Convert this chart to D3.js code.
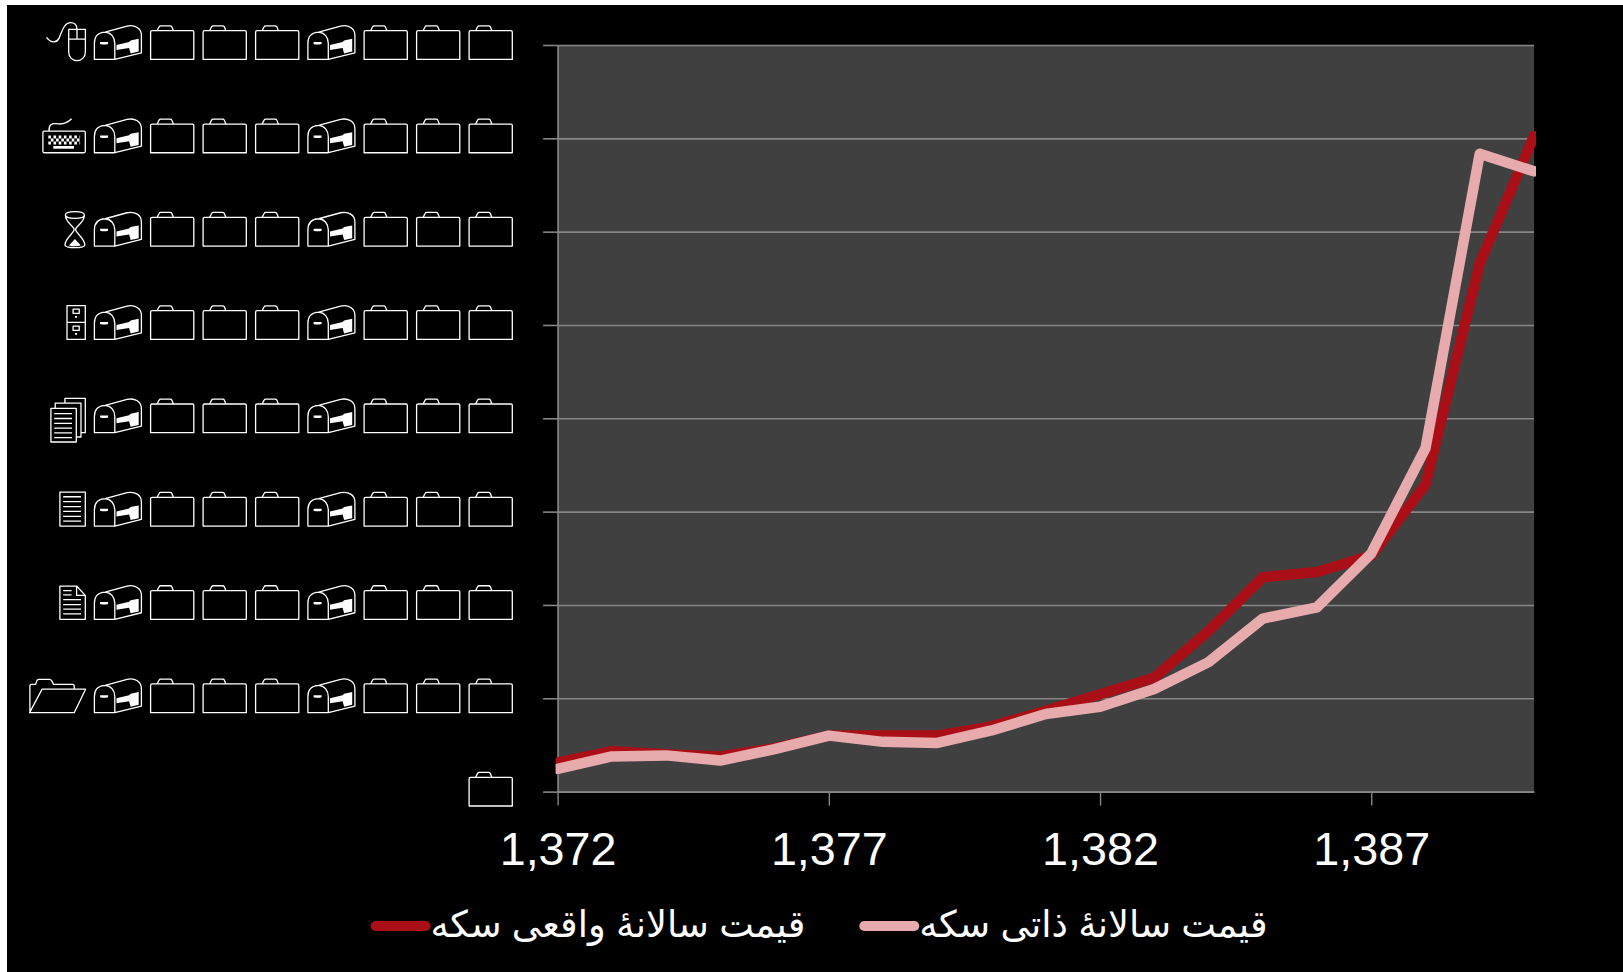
<!DOCTYPE html>
<html><head><meta charset="utf-8">
<script src="https://cdnjs.cloudflare.com/ajax/libs/d3/7.8.5/d3.min.js"></script>
<style>
html,body{margin:0;padding:0;background:#fff;overflow:hidden}
svg{display:block}
</style></head><body><svg id="c" width="1623" height="972"></svg>
<script>
const years=[1372,1373,1374,1375,1376,1377,1378,1379,1380,1381,1382,1383,1384,1385,1386,1387,1388,1389,1390];
const realPrice=[311000,433000,400000,377000,466000,600000,600000,600000,699000,865000,1043000,1221000,1720000,2297000,2352000,2530000,3290000,5659000,7024000];
const intrinsicPrice=[244000,377000,388000,333000,455000,600000,533000,522000,655000,832000,910000,1099000,1387000,1853000,1975000,2552000,3680000,6835000,6646000];
const yTickValues=[0,1000000,2000000,3000000,4000000,5000000,6000000,7000000,8000000];
const xTickValues=[1372,1377,1382,1387];
const seriesNames=["قیمت سالانۀ واقعی سکه","قیمت سالانۀ ذاتی سکه"];
const seriesColors=["#aa0f17","#e8abad"];

const svg=d3.select("#c");
const L=557.6,R=1534,T=45,B=791.6;
const x=d3.scaleLinear().domain([1372,1390]).range([L,R]);
const y=d3.scaleLinear().domain([0,8000000]).range([B,T]);
const AX="#868686";

svg.append("rect").attr("x",7).attr("y",5).attr("width",1616).attr("height",967).attr("fill","#000");
svg.append("rect").attr("x",L).attr("y",T).attr("width",R-L).attr("height",B-T).attr("fill","#404040");

// Axes
const gy=svg.append("g").attr("transform",`translate(${L},0)`)
  .call(d3.axisLeft(y).tickValues(yTickValues).tickSize(14.5).tickSizeOuter(0).tickFormat(d3.format(",")));
gy.selectAll("path,line").attr("stroke",AX).attr("stroke-width",1.6);
gy.selectAll("text").remove();
const gg=svg.append("g").attr("transform",`translate(${L},0)`)
  .call(d3.axisRight(y).tickValues(yTickValues).tickSize(R-L).tickFormat(""));
gg.select("path").remove();
gg.selectAll("line").attr("stroke",AX).attr("stroke-width",1.6);

const gx=svg.append("g").attr("transform",`translate(0,${B})`)
  .call(d3.axisBottom(x).tickValues(xTickValues).tickSize(14).tickSizeOuter(0).tickPadding(21).tickFormat(d3.format(",")));
gx.select("path").attr("stroke",AX).attr("stroke-width",1.6);
gx.selectAll("line").attr("stroke",AX).attr("stroke-width",1.4);
gx.selectAll("text").attr("fill","#fff").attr("font-family","Arial,'Liberation Sans',sans-serif").attr("font-size",46.7).attr("dy",0).attr("y",73);

// Lines
svg.append("clipPath").attr("id","pc").append("rect").attr("x",L-2).attr("y",T-5).attr("width",R-L+4).attr("height",B-T+5);
const line=d3.line().x((d,i)=>x(years[i])).y(d=>y(d));
[realPrice,intrinsicPrice].forEach((s,i)=>{
  svg.append("path").datum(s).attr("d",line).attr("clip-path","url(#pc)").attr("fill","none")
    .attr("stroke",seriesColors[i]).attr("stroke-width",10.5).attr("stroke-linejoin","round").attr("stroke-linecap","round");
});

// Tick labels are set in a symbol typeface (Wingdings) in the reference: each character
// maps to a pictogram, drawn here from the formatted tick label.
const glyphs={
 "0":{w:44,d:"M.5,0V-27.5Q.5,-28.7 2,-28.7H42.3Q43.7,-28.7 43.7,-27.5V0ZM7,-28.7L9,-32.6Q9.4,-33.6 10.8,-33.6H20Q21.3,-33.6 21.7,-32.6L23.3,-28.7"},
 ",":{w:47.5,d:"M.3,0V-16C.3,-23 4,-27 11,-27.3L33,-33.3C41,-35 47.3,-31 47.3,-24V-6.6L20.7,0H.3ZM20.7,0V-16C20.7,-22 17,-27 11,-27.3",
      fill:"M22.4,-14.5L35,-17.5L36.5,-19L44.6,-20.6V-7.8L36.5,-6L35,-11.5L22.4,-9.5ZM6,-17.3H14V-15.3Q10,-14.3 6,-15.3Z"},
 "1":{w:56,d:"M.3,0V-27Q.3,-28.3 2,-28.3H6L7.5,-32.3Q8,-33.3 9.5,-33.3H20Q21.4,-33.3 22,-32L24,-28.3H43Q44.6,-28.3 44.6,-27V-23.5M0,0L12.5,-23.5H56L44.6,0Z"},
 "2":{w:26,d:"M.3,0V-33.3H17L25.7,-24V0ZM17,-33.3V-24H25.7M3.6,-28.8H12M3.6,-24.5H12M3.6,-19.8H21.4M3.6,-14.8H21.4M3.6,-10.2H21.4M3.6,-5.4H21.4"},
 "3":{w:26,d:"M.3,0V-34H25.7V0ZM3.6,-29.3H21.4M3.6,-24.4H21.4M3.6,-19.5H21.4M3.6,-14.6H21.4M3.6,-9.7H21.4M3.6,-4.9H21.4"},
 "4":{w:35,d:"M.3,-24.3H25.7V9.3H.3ZM4.6,-24.3V-29.5H30.4V4.3H25.7M14.3,-29.5V-34.3H34.7V0H30.4M3.6,-19H21.4M3.6,-14.2H21.4M3.6,-9.4H21.4M3.6,-4.6H21.4M3.6,.2H21.4M3.6,5H21.4"},
 "5":{w:18.9,d:"M.3,0V-33.7H18.6V0ZM.3,-17H18.6M6.4,-30.3H12.5V-26H6.4ZM6.4,-13.3H12.5V-9H6.4Z",
      fill:"M8.3,-23.3H10.3V-21.7H8.3ZM8.3,-6.3H10.3V-4.7H8.3Z"},
 "6":{w:21.4,d:"M1.2,-31C1.2,-35.5 20.2,-35.5 20.2,-31C20.2,-26.5 1.2,-26.5 1.2,-31ZM1.2,-31C1.2,-23 10,-20 10,-16.5C10,-13 .8,-8 .8,-1C.8,2.5 20.6,2.5 20.6,-1C20.6,-8 11.4,-13 11.4,-16.5C11.4,-20 20.2,-23 20.2,-31",
      fill:"M10.7,-7L16.5,-.8C14,.6 7,.6 4.9,-.8Z"},
 "7":{w:43,d:"M1.7,0Q.3,0 .3,-1.4V-20.3Q.3,-21.7 1.7,-21.7H41.3Q42.7,-21.7 42.7,-20.3V-1.4Q42.7,0 41.3,0ZM6.5,-21.7C6,-28 9,-29.5 14,-29C20,-28 24,-29 29,-34",
      fill:"M10.7,-6.7H31.4V-4H10.7Z",dash:[[5.7,37.5,-15.8,0],[5.7,37.5,-12.8,2.6],[5.7,37.5,-9.8,0]]},
 "8":{w:39.6,d:"M22.7,-30H39.4V-7.7C39.4,-2.5 36,1.3 31,1.3C26,1.3 22.7,-2.5 22.7,-7.7ZM22.7,-20.3H39.4M31,-30V-20.3M.5,-22C4,-17 10,-15.5 13,-21C16,-28 18,-36 24,-36.7C28,-37 31,-35 31,-30"}
};
const labelRight=512.6,gap=8.5,baseShift=14.4;
const fmt=d3.format(",");
yTickValues.forEach(v=>{
  const label=fmt(v);
  const g=svg.append("g").attr("class","y-label").attr("aria-label",label);
  g.append("title").text(label);
  let right=labelRight;
  label.split("").reverse().forEach(ch=>{
    const s=glyphs[ch];
    const c=g.append("g").attr("transform",`translate(${right-s.w},${y(v)+baseShift})`);
    c.append("path").attr("d",s.d).attr("fill","none").attr("stroke","#fff").attr("stroke-width",1.3).attr("stroke-linejoin","round");
    if(s.fill)c.append("path").attr("d",s.fill).attr("fill","#fff");
    if(s.dash)s.dash.forEach(a=>c.append("line").attr("x1",a[0]+a[3]).attr("x2",a[1]).attr("y1",a[2]).attr("y2",a[2])
      .attr("stroke","#fff").attr("stroke-width",3).attr("stroke-dasharray","2.6 2.6"));
    right-=s.w+gap;
  });
});

// Legend
const legendX=[370.6,859.3];
seriesNames.forEach((n,i)=>{
  svg.append("line").attr("x1",legendX[i]+5).attr("x2",legendX[i]+55).attr("y1",926).attr("y2",926)
    .attr("stroke",seriesColors[i]).attr("stroke-width",10).attr("stroke-linecap","round");
  svg.append("text").attr("x",legendX[i]+60).attr("y",937).attr("fill","#fff").attr("direction","rtl").attr("text-anchor","end")
    .attr("font-family","Arial,'Liberation Sans','DejaVu Sans',sans-serif").attr("font-size",36.8).text(n);
});
</script></body></html>
